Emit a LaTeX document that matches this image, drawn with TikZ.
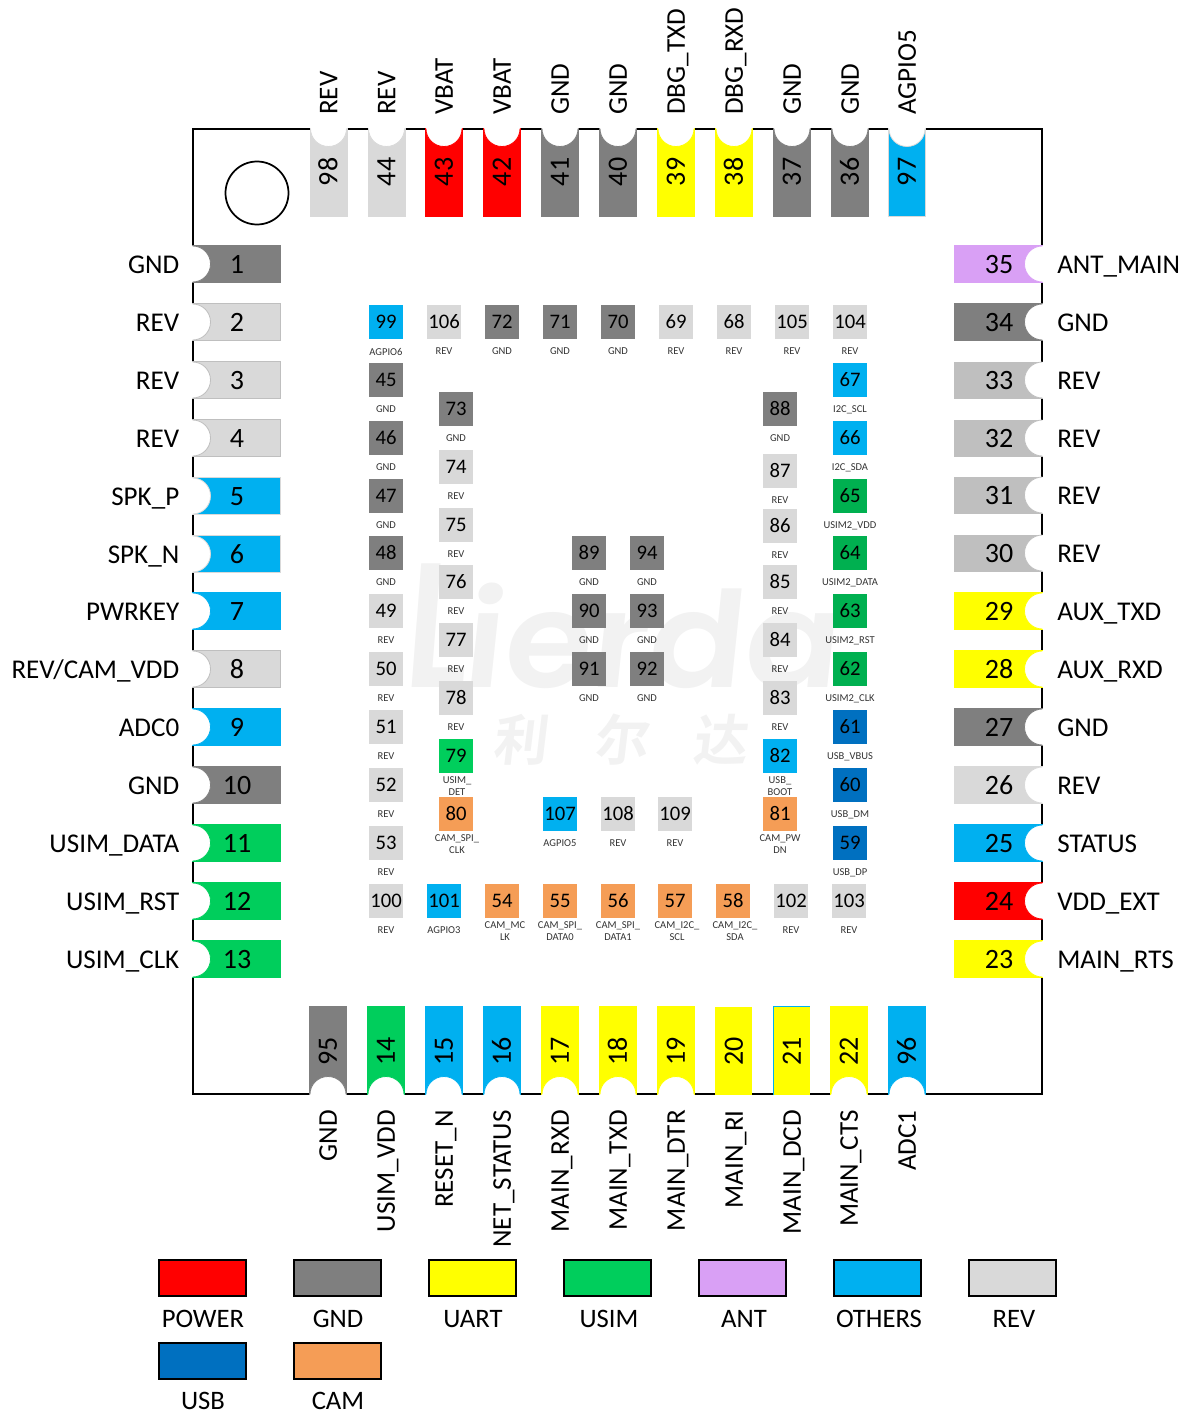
\documentclass[tikz,border=0pt]{standalone}
\usepackage{fontspec}
\setmainfont{Carlito}
\newfontfamily\wmfont[FakeSlant=0.1,BoldFont={Poppins SemiBold}]{Poppins}
\newfontfamily\wmcjk[FakeSlant=0.12,BoldFont={Noto Sans CJK SC Bold}]{Noto Sans CJK SC}
\definecolor{cRed}{HTML}{FF0000}
\definecolor{cGnd}{HTML}{7F7F7F}
\definecolor{cYel}{HTML}{FFFF00}
\definecolor{cSim}{HTML}{00CE5C}
\definecolor{cSimB}{HTML}{00B050}
\definecolor{cAnt}{HTML}{D9A0F5}
\definecolor{cOth}{HTML}{00B0F0}
\definecolor{cRev}{HTML}{D9D9D9}
\definecolor{cRevD}{HTML}{BFBFBF}
\definecolor{cUsb}{HTML}{0070C0}
\definecolor{cCam}{HTML}{F59D56}
\definecolor{cWm}{HTML}{F2F2F2}
\tikzset{
  bignum/.style={inner sep=0pt,font=\fontsize{21}{23}\selectfont,text height=14.2pt,text depth=0pt},
  signame/.style={inner sep=0pt,font=\fontsize{20.3}{22}\selectfont,text height=14pt,text depth=0pt},
  vertnum/.style={bignum,rotate=90,text height=13.4pt},
  vertname/.style={signame,rotate=90,text height=13.2pt},
  smallpad/.style={inner sep=0pt,minimum size=25.5pt,font=\fontsize{15.5}{17}\selectfont,text height=10.2pt,text depth=0pt},
  smalllabel/.style={inner sep=0pt,align=center,text=black!80,font=\fontsize{7.9}{9}\selectfont},
  legendbox/.style={draw=black,line width=1.1pt,minimum width=65pt,minimum height=27pt,inner sep=0pt},
  legendtext/.style={inner sep=0pt,font=\fontsize{20}{22}\selectfont,text height=13.6pt,text depth=0pt},
  wmtext/.style={inner sep=0pt,text=cWm},
}
% #1 number, #2 edge x, #3 centre y, #4 angle, #5 fill, #6 edge colour, #7 half width, #8 notch radius along axis
\newcommand{\notchpad}[8]{%
  \begin{scope}[shift={(#2,#3)},rotate=#4]
    \fill[#5] (-0.8,-#7) rectangle (87.6,#7);
    \draw[#6,line width=0.6pt] (-0.8,-#7) -- (87.6,-#7) -- (87.6,#7) -- (-0.8,#7);
    \fill[white] (-1.6,-18) -- (0,-18) .. controls (#8*0.55,-18) and (#8,-10) .. (#8,0) .. controls (#8,10) and (#8*0.55,18) .. (0,18) -- (-1.6,18) -- cycle;
    \draw[#6,line width=0.6pt] (-0.4,-18) .. controls (#8*0.55,-18) and (#8,-10) .. (#8,0) .. controls (#8,10) and (#8*0.55,18) .. (-0.4,18);
  \end{scope}}
\newcommand{\inpad}[7]{% number, x, y, colour, label, label x, label y
  \node[smallpad,fill=#4] (ip#1) at (#2,#3) {#1};
  \node[smalllabel] (il#1) at (#6,#7) {#5};}
\begin{document}
\begin{tikzpicture}[x=0.75pt,y=-0.75pt]
\useasboundingbox (0,0) rectangle (1186,1412);
% watermark
\node[wmtext,anchor=base west,font=\wmfont\bfseries] (wm) at (402,687) {\scalebox{0.78}[1]{\fontsize{133}{140}\selectfont L}\hspace{-3pt}\scalebox{1.06}[1]{\fontsize{100}{110}\selectfont ierda}};
\node[wmtext,font=\wmcjk\bfseries\fontsize{41}{44}\selectfont] (wm1) at (520,740) {利};
\node[wmtext,font=\wmcjk\bfseries\fontsize{41}{44}\selectfont] (wm2) at (621,740) {尔};
\node[wmtext,font=\wmcjk\bfseries\fontsize{41}{44}\selectfont] (wm3) at (720,740) {达};
% module outline and pin-1 mark
\draw[black,line width=1.5pt] (193,129) rectangle (1042,1094);
\draw[black,line width=1.3pt] (257,193) circle [radius=31.5];
% left pads
\foreach \n/\y/\c/\e/\t in {
 1/264/cGnd/cGnd/GND,2/322/cRev/cRevD/REV,3/380/cRev/cRevD/REV,4/438/cRev/cRevD/REV,
 5/496/cOth/cRev/SPK\_P,6/554/cOth/cRev/SPK\_N,7/611/cOth/cOth/PWRKEY,8/669/cRev/cRevD/REV\slash CAM\_VDD,
 9/727/cOth/cOth/ADC0,10/785/cGnd/cGnd/GND,11/843/cSim/cSim/USIM\_DATA,12/901/cSim/cSim/USIM\_RST,13/959/cSim/cSim/USIM\_CLK}{
  \notchpad{\n}{193}{\y}{0}{\c}{\e}{18.6}{17.5}
  \node[bignum] (pad\n) at (237,\y) {\n};
  \node[signame,anchor=east] (sig\n) at (179.5,\y) {\t};
}
% right pads
\foreach \n/\y/\c/\e/\hw/\t in {
 35/264/cAnt/cAnt/18.6/ANT\_MAIN,34/322/cGnd/cGnd/18.6/GND,33/380/cRevD/cRevD/18/REV,32/438/cRevD/cRevD/18/REV,
 31/495/cRevD/cRevD/18/REV,30/553/cRevD/cRevD/18/REV,29/611/cYel/cYel/18.6/AUX\_TXD,28/669/cYel/cYel/18.6/AUX\_RXD,
 27/727/cGnd/cGnd/18.6/GND,26/785/cRev/cRev/18.6/REV,25/843/cOth/cOth/18.6/STATUS,24/901/cRed/cRed/18.6/VDD\_EXT,23/959/cYel/cYel/18.6/MAIN\_RTS}{
  \notchpad{\n}{1042}{\y}{180}{\c}{\e}{\hw}{17.5}
  \node[bignum] (pad\n) at (999,\y) {\n};
  \node[signame,anchor=west] (sig\n) at (1057,\y) {\t};
}
% top pads
\foreach \n/\x/\c/\e/\t in {
 98/328.5/cRev/cRev/REV,44/386.5/cRev/cRev/REV,43/444/cRed/cRed/VBAT,42/502/cRed/cRed/VBAT,41/560/cGnd/cGnd/GND,
 40/618/cGnd/cGnd/GND,39/676/cYel/cYel/DBG\_TXD,38/734/cYel/cYel/DBG\_RXD,37/792/cGnd/cGnd/GND,36/850/cGnd/cGnd/GND,97/907/cOth/cRev/AGPIO5}{
  \notchpad{\n}{\x}{129}{-90}{\c}{\e}{18.6}{17.5}
  \node[vertnum] (pad\n) at (\x,172) {\n};
  \node[vertname,anchor=west] (sig\n) at (\x,115) {\t};
}
% bottom pads with notch
\foreach \n/\x/\c/\e/\t in {
 95/328/cGnd/cGnd/GND,14/386/cSim/cSim/USIM\_VDD,15/444/cOth/cOth/RESET\_N,16/502/cOth/cOth/NET\_STATUS,
 17/560/cYel/cYel/MAIN\_RXD,18/618/cYel/cYel/MAIN\_TXD,19/676/cYel/cYel/MAIN\_DTR,
 22/849/cYel/cYel/MAIN\_CTS,96/907/cOth/cOth/ADC1}{
  \notchpad{\n}{\x}{1094}{90}{\c}{\e}{18.6}{17.5}
}
% bottom pads without notch
\fill[cYel] (715,1007) rectangle (752,1095);
\fill[cYel] (773,1006.5) rectangle (810,1095);
\draw[cOth,line width=0.5pt] (773,1095) -- (773,1006.5) -- (810,1006.5);
\foreach \n/\x/\t in {
 95/328/GND,14/386/USIM\_VDD,15/444/RESET\_N,16/502/NET\_STATUS,17/560/MAIN\_RXD,18/618/MAIN\_TXD,
 19/676/MAIN\_DTR,20/734/MAIN\_RI,21/792/MAIN\_DCD,22/849/MAIN\_CTS,96/907/ADC1}{
  \node[vertnum] (pad\n) at (\x,1051) {\n};
  \node[vertname,anchor=east] (sig\n) at (\x,1110) {\t};
}
% inner pads, single-line labels
\foreach \n/\x/\y/\c/\t in {
 99/386/322/cOth/AGPIO6,106/444/322/cRev/REV,72/502/322/cGnd/GND,71/560/322/cGnd/GND,70/618/322/cGnd/GND,
 69/676/322/cRev/REV,68/734/322/cRev/REV,105/792/322/cRev/REV,104/850/322/cRev/REV,
 45/386/380/cGnd/GND,46/386/438/cGnd/GND,47/386/496/cGnd/GND,48/386/553/cGnd/GND,
 49/386/611/cRev/REV,50/386/669/cRev/REV,51/386/727/cRev/REV,52/386/785/cRev/REV,53/386/843/cRev/REV,
 100/386/901/cRev/REV,101/444/901/cOth/AGPIO3,102/791/901/cRev/REV,103/849/901/cRev/REV,
 67/850/380/cOth/I2C\_SCL,66/850/438/cOth/I2C\_SDA,65/850/496/cSimB/USIM2\_VDD,64/850/553/cSimB/USIM2\_DATA,
 63/850/611/cSimB/USIM2\_RST,62/850/669/cSimB/USIM2\_CLK,61/850/727/cUsb/USB\_VBUS,60/850/785/cUsb/USB\_DM,59/850/843/cUsb/USB\_DP,
 73/456/409/cGnd/GND,74/456/467/cRev/REV,75/456/525/cRev/REV,76/456/582/cRev/REV,77/456/640/cRev/REV,78/456/698/cRev/REV,
 88/780/409/cGnd/GND,87/780/471/cRev/REV,86/780/526/cRev/REV,85/780/582/cRev/REV,84/780/640/cRev/REV,83/780/698/cRev/REV,
 89/589/553/cGnd/GND,90/589/611/cGnd/GND,91/589/669/cGnd/GND,94/647/553/cGnd/GND,93/647/611/cGnd/GND,92/647/669/cGnd/GND,
 107/560/814/cOth/AGPIO5,108/618/814/cRev/REV,109/675/814/cRev/REV}{
  \pgfmathsetmacro{\ly}{\y+29.5}
  \inpad{\n}{\x}{\y}{\c}{\t}{\x}{\ly}
}
% inner pads, two-line labels
\inpad{79}{456}{756}{cSim}{USIM\_\\DET}{457}{786}
\inpad{80}{456}{814}{cCam}{CAM\_SPI\_\\CLK}{457}{844}
\inpad{82}{780}{756}{cOth}{USB\_\\BOOT}{780}{786}
\inpad{81}{780}{814}{cCam}{CAM\_PW\\DN}{780}{844}
\inpad{54}{502}{901}{cCam}{CAM\_MC\\LK}{505}{931}
\inpad{55}{560}{901}{cCam}{CAM\_SPI\_\\DATA0}{560}{931}
\inpad{56}{618}{901}{cCam}{CAM\_SPI\_\\DATA1}{618}{931}
\inpad{57}{675}{901}{cCam}{CAM\_I2C\_\\SCL}{677}{931}
\inpad{58}{733}{901}{cCam}{CAM\_I2C\_\\SDA}{735}{931}
% legend
\foreach \name/\bx/\by/\c/\tx/\ty in {
 POWER/202.5/1278/cRed/203/1318,GND/337.5/1278/cGnd/338/1318,UART/472.5/1278/cYel/473/1318,USIM/607.5/1278/cSim/609/1318,
 ANT/742.5/1278/cAnt/744/1318,OTHERS/877.5/1278/cOth/879/1318,REV/1012.5/1278/cRev/1014/1318,
 USB/202.5/1361/cUsb/203/1400,CAM/337.5/1361/cCam/338/1400}{
  \node[legendbox,fill=\c] (box\name) at (\bx,\by) {};
  \node[legendtext] (txt\name) at (\tx,\ty) {\name};
}
\end{tikzpicture}
\end{document}
